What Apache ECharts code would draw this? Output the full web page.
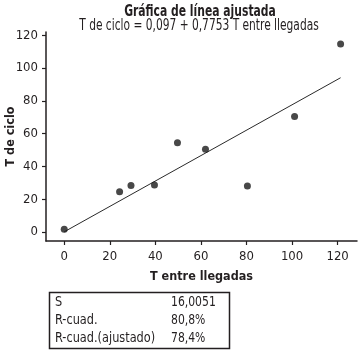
<!DOCTYPE html>
<html>
<head>
<meta charset="utf-8">
<script src="https://cdn.jsdelivr.net/npm/echarts@6/dist/echarts.min.js"></script>
<style>
html,body{margin:0;padding:0;background:#fff;}
#c{width:364px;height:357px;}
</style>
</head>
<body>
<div id="c"></div>
<script>
// Data
var tEntreLlegadas = [0, 24.3, 29.3, 39.6, 49.7, 62.0, 80.4, 101.1, 121.3];
var tDeCiclo      = [1.6, 24.5, 28.4, 28.6, 54.4, 50.5, 28.0, 70.5, 114.7];
var fitX = [0, 121.3];
var fitY = [0.1, 94.1];
var xTicks = [0, 20, 40, 60, 80, 100, 120];
var yTicks = [0, 20, 40, 60, 80, 100, 120];
var statNames = ['S', 'R-cuad.', 'R-cuad.(ajustado)'];
var statValues = ['16,0051', '80,8%', '78,4%'];

var FONT = '"DejaVu Sans Condensed", "Liberation Sans", sans-serif';
var INK = '#231f20';

var chart = echarts.init(document.getElementById('c'));

var graphics = [
  {type:'text', x:200, y:12, scaleX:0.8, style:{text:'Gráfica de línea ajustada', font:'bold 15px ' + FONT, fill:INK, textAlign:'center', textVerticalAlign:'middle'}},
  {type:'text', x:199, y:26, scaleX:0.79, style:{text:'T de ciclo = 0,097 + 0,7753 T entre llegadas', font:'15px ' + FONT, fill:INK, textAlign:'center', textVerticalAlign:'middle'}},
  {type:'rect', shape:{x:49.5, y:292.5, width:180, height:56}, style:{fill:'none', stroke:INK, lineWidth:1.5}}
];
var rowY = [302, 320, 338];
for (var i = 0; i < statNames.length; i++) {
  graphics.push({type:'text', x:55, y:rowY[i], scaleX:0.9, style:{text:statNames[i], font:'14px ' + FONT, fill:INK, textAlign:'left', textVerticalAlign:'middle'}});
  graphics.push({type:'text', x:171, y:rowY[i], scaleX:0.86, style:{text:statValues[i], font:'14px ' + FONT, fill:INK, textAlign:'left', textVerticalAlign:'middle'}});
}

chart.setOption({
  animation:false,
  backgroundColor:'#fff',
  grid:{left:46, right:7, top:32, bottom:116, containLabel:false, outerBoundsMode:'none'},
  xAxis:{
    type:'value', min:-8, max:128.5,
    name:'T entre llegadas', nameLocation:'middle', nameGap:29, nameMoveOverlap:false,
    nameTextStyle:{fontFamily:FONT, fontWeight:'bold', fontSize:12.5, color:INK},
    axisLine:{show:true, onZero:false, lineStyle:{color:INK, width:1.5}},
    axisTick:{show:true, length:4, customValues:xTicks, lineStyle:{color:INK, width:1.2}},
    axisLabel:{customValues:xTicks, margin:9, fontFamily:FONT, fontSize:13, color:INK},
    splitLine:{show:false}
  },
  yAxis:{
    type:'value', min:-5.5, max:122,
    name:'T de ciclo', nameLocation:'middle', nameGap:29, nameMoveOverlap:false,
    nameTextStyle:{fontFamily:FONT, fontWeight:'bold', fontSize:12.5, color:INK},
    axisLine:{show:true, onZero:false, lineStyle:{color:INK, width:1.5}},
    axisTick:{show:true, length:4, customValues:yTicks, lineStyle:{color:INK, width:1.2}},
    axisLabel:{customValues:yTicks, margin:8, fontFamily:FONT, fontSize:13, color:INK},
    splitLine:{show:false}
  },
  series:[
    {type:'line', data:fitX.map(function(x,i){return [x, fitY[i]];}), showSymbol:false, symbol:'none',
     lineStyle:{color:'#2a2a2a', width:1}, silent:true, z:2},
    {type:'scatter', data:tEntreLlegadas.map(function(x,i){return [x, tDeCiclo[i]];}),
     symbol:'circle', symbolSize:7, itemStyle:{color:'#1a1a1a'}, z:3}
  ],
  graphic:graphics
});
</script>
</body>
</html>
